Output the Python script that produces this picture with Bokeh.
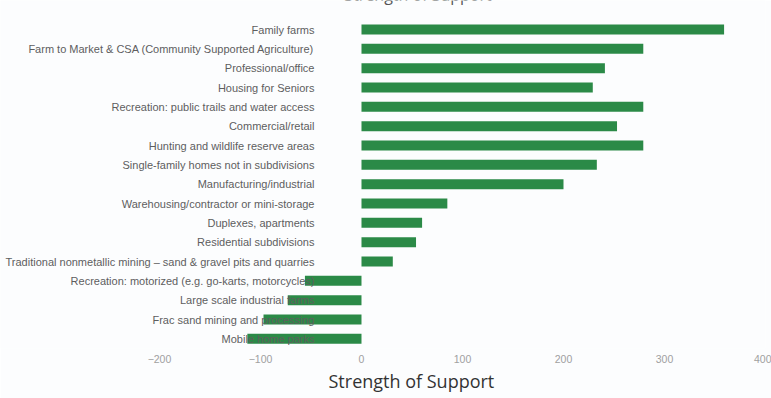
from bokeh.plotting import figure
from bokeh.models import Range1d, Label, FixedTicker, ColumnDataSource, Title
from bokeh.core.properties import value
from bokeh.embed import file_html
from bokeh.resources import INLINE

categories = [
    "Family farms",
    "Farm to Market & CSA (Community Supported Agriculture)",
    "Professional/office",
    "Housing for Seniors",
    "Recreation: public trails and water access",
    "Commercial/retail",
    "Hunting and wildlife reserve areas",
    "Single-family homes not in subdivisions",
    "Manufacturing/industrial",
    "Warehousing/contractor or mini-storage",
    "Duplexes, apartments",
    "Residential subdivisions",
    "Traditional nonmetallic mining \u2013 sand & gravel pits and quarries",
    "Recreation: motorized (e.g. go-karts, motorcycles)",
    "Large scale industrial farms",
    "Frac sand mining and processing",
    "Mobile home parks",
]
support = [359, 279, 241, 229, 279, 253, 279, 233, 200, 85, 60, 54, 31, -56, -73, -97, -113]
x_ticks = [-200, -100, 0, 100, 200, 300, 400]
title_text = "Strength of Support"
axis_title = "Strength of Support"

n = len(categories)
idx = list(range(n))
src = ColumnDataSource(dict(y=idx, v=support, cat=categories, zero=[0] * n))

p = figure(width=771, height=398, output_backend="svg", toolbar_location=None,
           x_range=Range1d(-357.4, 400), y_range=Range1d(n - 0.5, -1.5),
           min_border_left=0, min_border_right=6, min_border_top=0, min_border_bottom=50)
p.background_fill_color = "#fcfdfe"
p.border_fill_color = "#fcfdfe"
p.outline_line_color = None
p.xgrid.grid_line_color = None
p.ygrid.grid_line_color = None
p.yaxis.visible = False

p.hbar(y="y", left=0, right="v", height=0.52, source=src, fill_color="#2b8a47", line_color=None)
p.text(x="zero", y="y", text="cat", source=src, x_offset=-47, text_align="right",
       text_baseline="middle", text_font=value("Liberation Sans"), text_font_size="11px",
       text_color="#5e5e5e")

ax = p.xaxis[0]
ax.ticker = FixedTicker(ticks=x_ticks)
ax.axis_line_color = None
ax.major_tick_line_color = None
ax.minor_tick_line_color = None
ax.major_label_text_font = "Liberation Sans"
ax.major_label_text_font_size = "10.5px"
ax.major_label_text_color = "#a0a0a0"
ax.major_label_standoff = 0

p.add_layout(Title(text=axis_title, align="left", offset=328, text_font="Open Sans",
                   text_font_size="18px", text_font_style="normal", text_color="#333333",
                   standoff=2), "below")
p.add_layout(Label(x=56, y=-1.76, text=title_text, text_align="center", text_baseline="alphabetic",
                   text_font="Open Sans", text_font_size="16px", text_color="#555555"))

open("out.html", "w").write(file_html(p, INLINE))
